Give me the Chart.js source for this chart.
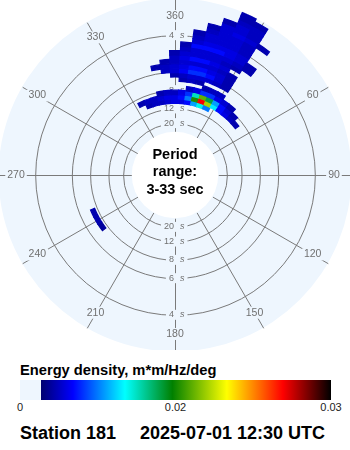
<!DOCTYPE html>
<html>
<head>
<meta charset="utf-8">
<script src="https://cdn.jsdelivr.net/npm/chart.js@4.4.1/dist/chart.umd.min.js"></script>
<style>
  body { margin: 0; background: #fff; font-family: "Liberation Sans", Arial, sans-serif; }
  #wrap { position: relative; width: 350px; height: 450px; overflow: hidden; }
  #plot { position: absolute; left: 0; top: 0; width: 350px; height: 350px; }
  #cbTitle { position: absolute; left: 20px; top: 363px; font: bold 14.7px/14px "Liberation Sans", Arial, sans-serif; color: #000; white-space: nowrap; }
  #cbar { position: absolute; left: 20px; top: 380px; width: 311px; height: 20px; }
  .tick { position: absolute; top: 402px; font: 11px/11px "Liberation Sans", Arial, sans-serif; color: #222; transform: translateX(-50%); white-space: nowrap; }
  .foot { position: absolute; top: 424px; font: bold 18px/18px "Liberation Sans", Arial, sans-serif; color: #000; white-space: nowrap; }
</style>
</head>
<body>
<div id="wrap">
  <div id="plot"><canvas id="spec"></canvas></div>
  <div id="cbTitle">Energy density, m*m/Hz/deg</div>
  <div id="cbar"></div>
  <div id="ticks"></div>
  <div class="foot" style="left:20px">Station 181</div>
  <div class="foot" style="left:140px">2025-07-01 12:30 UTC</div>
</div>
<script>
// period rings (s) and the plotted period range
const periods = [4, 6, 8, 12, 20];
const periodRange = [3, 33];

// direction spokes, degrees clockwise from north
const dirTicks = [0, 30, 60, 90, 120, 150, 180, 210, 240, 270, 300, 330];
const dirTickLabels = ['360', '30', '60', '90', '120', '150', '180', '210', '240', '270', '300', '330'];

// spectrum grid: direction bin centres (deg) x frequency bin centres (Hz)
const dirs = [-30, -25, -20, -15, -10, -5, 0, 5, 10, 15, 20, 25, 30, 35, 40, 45, 50, 55];
const freqs = [0.10, 0.11, 0.12, 0.13, 0.14, 0.15, 0.16, 0.17, 0.18, 0.19, 0.20, 0.21,
               0.22, 0.23, 0.24, 0.25, 0.26, 0.27, 0.28, 0.29, 0.30, 0.31, 0.32, 0.33];
// energy density, 1e-3 m*m/Hz/deg (one row per frequency)
const energy = [
  [0, 0, 4.5, 5, 5, 5.5, 6, 6, 7, 11, 14, 10, 0, 0, 0, 0, 0, 0],
  [0, 4.5, 5, 5, 5.5, 6, 6, 7, 10, 20, 27, 22, 13, 7, 6, 5, 4.5, 0],
  [0, 0, 0, 0, 4.5, 5, 5, 6, 8, 15, 21, 18, 11, 7, 5.5, 4.5, 0, 0],
  [0, 0, 0, 0, 0, 0, 0, 0, 5, 6, 8, 8, 6, 5.5, 4.5, 0, 0, 0],
  [0, 0, 0, 0, 0, 0, 0, 0, 0, 0, 4.5, 5, 5, 0, 0, 0, 0, 0],
  [0, 0, 0, 0, 0, 0, 0, 4.5, 5, 4.5, 0, 0, 0, 0, 0, 0, 0, 0],
  [0, 0, 0, 0, 0, 0, 4.5, 5, 5.5, 5.5, 5.5, 5, 4.5, 0, 0, 0, 0, 0],
  [0, 0, 0, 0, 0, 5, 5.5, 6.5, 8, 8, 7, 5.5, 4.5, 0, 0, 0, 0, 0],
  [0, 0, 0, 0, 4.5, 5, 5.5, 6, 7, 7, 6, 5.5, 4.5, 0, 0, 0, 0, 0],
  [0, 0, 0, 0, 0, 4.5, 5, 5.5, 5.5, 5.5, 5.5, 5, 4.5, 0, 0, 0, 0, 0],
  [0, 0, 0, 0, 0, 0, 5, 6, 7, 7, 6, 5.5, 0, 0, 0, 0, 0, 0],
  [0, 0, 0, 0, 0, 0, 4.5, 5.5, 5.5, 5.5, 5.5, 5, 4.5, 0, 0, 0, 0, 0],
  [0, 0, 0, 0, 0, 0, 0, 5, 5.5, 5.5, 5.5, 5.5, 5, 4.5, 0, 0, 0, 0],
  [0, 0, 0, 0, 0, 0, 0, 4.5, 7, 7, 7, 6, 5.5, 4.5, 0, 0, 0, 0],
  [0, 0, 0, 0, 0, 0, 0, 0, 5.5, 6, 6, 6, 5.5, 0, 0, 0, 0, 0],
  [0, 0, 0, 0, 0, 0, 0, 0, 5, 5.5, 5.5, 5.5, 5, 0, 0, 0, 0, 0],
  [0, 0, 0, 0, 0, 0, 0, 0, 4.5, 5.5, 5.5, 5.5, 5, 0, 0, 0, 0, 0],
  [0, 0, 0, 0, 0, 0, 0, 0, 0, 5, 5.5, 5.5, 5, 0, 0, 0, 0, 0],
  [0, 0, 0, 0, 0, 0, 0, 0, 0, 4.5, 5.5, 6, 5.5, 4.5, 0, 0, 0, 0],
  [0, 0, 0, 0, 0, 0, 0, 0, 0, 0, 5.5, 5.5, 5, 0, 0, 0, 0, 0],
  [0, 0, 0, 0, 0, 0, 0, 0, 0, 0, 4.5, 5.5, 5, 0, 0, 0, 0, 0],
  [0, 0, 0, 0, 0, 0, 0, 0, 0, 0, 0, 5, 5, 0, 0, 0, 0, 0],
  [0, 0, 0, 0, 0, 0, 0, 0, 0, 0, 0, 4.5, 4.5, 0, 0, 0, 0, 0],
  [0, 0, 0, 0, 0, 0, 0, 0, 0, 0, 0, 4.5, 0, 0, 0, 0, 0, 0]
];

// small south-west patch
const swDirs = [235, 240, 245];
const swFreqs = [0.135];
const swEnergy = [[4, 4.5, 4.5]];

// colour scale (1e-3 m*m/Hz/deg) and colour bar ticks (m*m/Hz/deg)
const cmapValues = [2.7, 6.8, 13.5, 19.6, 23.3, 26.9, 30];
const cmapColors = ['#000070', '#0000ff', '#00ffff', '#008000', '#ffff00', '#ff0000', '#000000'];
const barTicks = [0, 0.02, 0.03];
const barTickLabels = ['0', '0.02', '0.03'];

const DIR_STEP = 5, FREQ_STEP = 0.01;
const F_CENTER = -0.068;   // frequency that sits at the plot centre
const R_MAX = 0.398;       // half width of the plot in frequency units
const DISK = '#eef6fe', GRID = '#7a7a7a', LABEL = '#707070';

function hexRgb(h) {
  return [1, 3, 5].map(i => parseInt(h.slice(i, i + 2), 16));
}

function colorFor(v) {
  if (v < cmapValues[0]) return null;
  for (let i = 1; i < cmapValues.length; i++) {
    if (v <= cmapValues[i]) {
      const t = (v - cmapValues[i - 1]) / (cmapValues[i] - cmapValues[i - 1]);
      const a = hexRgb(cmapColors[i - 1]), b = hexRgb(cmapColors[i]);
      return 'rgb(' + a.map((c, k) => Math.round(c + (b[k] - c) * t)).join(',') + ')';
    }
  }
  return cmapColors[cmapColors.length - 1];
}

const polarPlot = {
  id: 'polarPlot',
  beforeDatasetsDraw(chart) {
    const ctx = chart.ctx;
    const xs = chart.scales.x, ys = chart.scales.y;
    const cx = xs.getPixelForValue(0), cy = ys.getPixelForValue(0);
    const rad = f => xs.getPixelForValue(f - F_CENTER) - cx;
    const rOut = rad(1 / periodRange[0]);
    const rIn = rad(1 / periodRange[1]);
    const gx = Math.floor(cx) + 0.5, gy = Math.floor(cy) + 0.5;

    ctx.save();
    ctx.fillStyle = DISK;
    ctx.beginPath();
    ctx.arc(cx, cy, rOut, 0, 2 * Math.PI);
    ctx.fill();

    // rings and spokes
    ctx.strokeStyle = GRID;
    ctx.lineWidth = 1;
    periods.forEach(p => {
      ctx.beginPath();
      ctx.arc(gx, gy, rad(1 / p), 0, 2 * Math.PI);
      ctx.stroke();
    });
    dirTicks.forEach(d => {
      const a = d * Math.PI / 180;
      ctx.beginPath();
      ctx.moveTo(gx + rIn * Math.sin(a), gy - rIn * Math.cos(a));
      ctx.lineTo(gx + rOut * Math.sin(a), gy - rOut * Math.cos(a));
      ctx.stroke();
    });

    // direction labels
    ctx.font = '10.5px "Liberation Sans", Arial, sans-serif';
    ctx.textAlign = 'center';
    ctx.textBaseline = 'middle';
    const labR = rOut - 17.5;
    dirTicks.forEach((d, i) => {
      const a = d * Math.PI / 180;
      const lx = cx + labR * Math.sin(a), ly = cy - labR * Math.cos(a);
      const w = ctx.measureText(dirTickLabels[i]).width;
      ctx.fillStyle = DISK;
      ctx.fillRect(lx - w / 2 - 2, ly - 6, w + 4, 12);
      ctx.fillStyle = LABEL;
      ctx.fillText(dirTickLabels[i], lx, ly);
    });

    // period labels on the north and south spokes
    periods.forEach(p => {
      const r = rad(1 / p);
      [-1, 1].forEach(s => {
        const ly = cy + s * r;
        const num = String(p);
        ctx.font = '9px "Liberation Sans", Arial, sans-serif';
        const nw = ctx.measureText(num).width;
        ctx.font = 'italic 9px "Liberation Sans", Arial, sans-serif';
        const sw = ctx.measureText('s').width;
        ctx.fillStyle = DISK;
        ctx.fillRect(cx - nw - 4, ly - 5, nw + sw + 12, 10);
        ctx.fillStyle = LABEL;
        ctx.textAlign = 'right';
        ctx.font = '9px "Liberation Sans", Arial, sans-serif';
        ctx.fillText(num, cx - 1, ly);
        ctx.textAlign = 'left';
        ctx.font = 'italic 9px "Liberation Sans", Arial, sans-serif';
        ctx.fillText('s', cx + 5, ly);
      });
    });

    // spectrum cells
    ctx.beginPath();
    ctx.arc(cx, cy, rOut, 0, 2 * Math.PI);
    ctx.clip();
    const drawCells = (dList, fList, vals) => {
      fList.forEach((f, i) => {
        dList.forEach((d, j) => {
          const col = colorFor(vals[i][j]);
          if (!col) return;
          const r0 = rad(f - FREQ_STEP / 2), r1 = rad(f + FREQ_STEP / 2);
          const a0 = (d - DIR_STEP / 2 - 90) * Math.PI / 180;
          const a1 = (d + DIR_STEP / 2 - 90) * Math.PI / 180;
          ctx.beginPath();
          ctx.arc(cx, cy, r1, a0, a1);
          ctx.arc(cx, cy, r0, a1, a0, true);
          ctx.closePath();
          ctx.fillStyle = col;
          ctx.strokeStyle = col;
          ctx.lineWidth = 1.2;
          ctx.fill();
          ctx.stroke();
        });
      });
    };
    drawCells(dirs, freqs, energy);
    drawCells(swDirs, swFreqs, swEnergy);

    // centre
    ctx.fillStyle = '#ffffff';
    ctx.beginPath();
    ctx.arc(cx, cy, rIn, 0, 2 * Math.PI);
    ctx.fill();
    ctx.fillStyle = '#000';
    ctx.font = 'bold 14.5px "Liberation Sans", Arial, sans-serif';
    ctx.textAlign = 'center';
    ctx.textBaseline = 'alphabetic';
    ctx.fillText('Period', cx, cy - 16);
    ctx.fillText('range:', cx, cy + 1);
    ctx.fillText(periodRange[0] + '-' + periodRange[1] + ' sec', cx, cy + 19);
    ctx.restore();
  }
};

new Chart(document.getElementById('spec').getContext('2d'), {
  type: 'scatter',
  data: { datasets: [] },
  options: {
    responsive: true,
    maintainAspectRatio: false,
    animation: false,
    events: [],
    layout: { padding: 0 },
    scales: {
      x: { type: 'linear', min: -R_MAX, max: R_MAX, display: false },
      y: { type: 'linear', min: -R_MAX, max: R_MAX, display: false }
    },
    plugins: { legend: { display: false }, tooltip: { enabled: false } }
  },
  plugins: [polarPlot]
});

// colour bar: ticks are evenly spaced along the bar
function barFrac(v) {
  const n = barTicks.length - 1;
  for (let i = 1; i <= n; i++) {
    if (v <= barTicks[i]) {
      return (i - 1 + (v - barTicks[i - 1]) / (barTicks[i] - barTicks[i - 1])) / n;
    }
  }
  return 1;
}
const stops = [DISK + ' 0%', DISK + ' ' + (barFrac(cmapValues[0] / 1000) * 100) + '%'];
cmapValues.forEach((v, i) => stops.push(cmapColors[i] + ' ' + (barFrac(v / 1000) * 100) + '%'));
document.getElementById('cbar').style.background = 'linear-gradient(to right, ' + stops.join(', ') + ')';
const tickBox = document.getElementById('ticks');
barTicks.forEach((t, i) => {
  const el = document.createElement('div');
  el.className = 'tick';
  el.style.left = (20 + 311 * barFrac(t)) + 'px';
  el.textContent = barTickLabels[i];
  tickBox.appendChild(el);
});
</script>
</body>
</html>
